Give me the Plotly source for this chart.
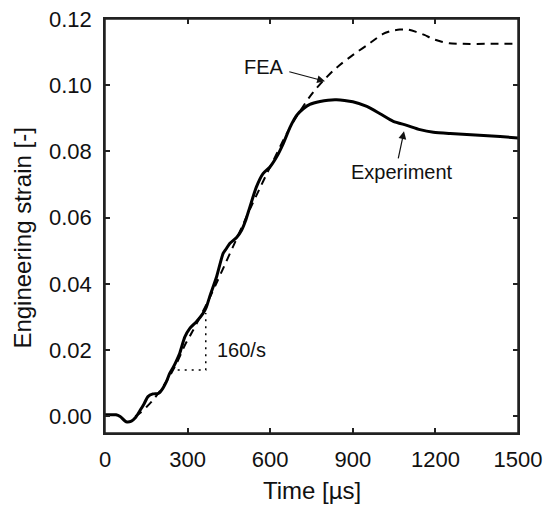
import plotly.graph_objects as go

# Experiment (solid)
exp_t = [0, 20, 40, 55, 77, 96, 110, 125, 140, 156, 174, 195, 210, 223, 235, 247, 259, 271,
         290, 308, 332, 356, 368, 380, 405, 429, 441, 453, 478, 496, 510, 526, 550, 574, 599,
         623, 647, 672, 696, 720, 744, 781, 810, 841, 870, 900, 951, 999, 1047, 1096, 1144,
         1193, 1254, 1314, 1375, 1435, 1500]
exp_strain = [0.0005, 0.0005, 0.0005, 0.0, -0.0016, -0.0014, -0.0004, 0.0015, 0.0035, 0.0060,
              0.0068, 0.0070, 0.0085, 0.0105, 0.0130, 0.0147, 0.0167, 0.0190, 0.0240, 0.0266,
              0.0286, 0.0311, 0.0330, 0.0361, 0.0421, 0.0492, 0.0507, 0.0522, 0.0540, 0.0562,
              0.0590, 0.0632, 0.0693, 0.0733, 0.0753, 0.0783, 0.0823, 0.0873, 0.0909, 0.0929,
              0.0942, 0.0951, 0.0955, 0.0956, 0.0954, 0.0950, 0.0936, 0.0914, 0.0891, 0.0879,
              0.0866, 0.0858, 0.0854, 0.0851, 0.0848, 0.0845, 0.0841]

# FEA (dashed)
fea_t = [110, 130, 150, 170, 200, 230, 260, 290, 320, 350, 380, 410, 440, 470, 500, 530, 560,
         590, 620, 650, 680, 710, 740, 770, 800, 830, 860, 890, 920, 950, 980, 1010, 1040, 1070,
         1100, 1130, 1160, 1190, 1220, 1250, 1300, 1400, 1500]
fea_strain = [0.0, 0.0012, 0.0028, 0.0045, 0.0077, 0.0115, 0.0160, 0.0215, 0.0260, 0.0308,
              0.0358, 0.0412, 0.0467, 0.0522, 0.0577, 0.0632, 0.0685, 0.0737, 0.0787, 0.0838,
              0.0884, 0.0924, 0.0961, 0.0993, 0.1020, 0.1045, 0.1066, 0.1085, 0.1103, 0.1120,
              0.1138, 0.1155, 0.1164, 0.1168, 0.1168, 0.1161, 0.1152, 0.1140, 0.1132, 0.1127,
              0.1125, 0.1125, 0.1125]

# Strain-rate triangle (dotted)
tri_t = [264, 366, 366]
tri_strain = [0.0140, 0.0140, 0.0312]

x_ticks = [0, 300, 600, 900, 1200, 1500]
y_ticks = [0.00, 0.02, 0.04, 0.06, 0.08, 0.10, 0.12]
y_tick_labels = ["0.00", "0.02", "0.04", "0.06", "0.08", "0.10", "0.12"]

FONT = "Liberation Sans, Arial, Helvetica, sans-serif"

fig = go.Figure()
fig.add_trace(go.Scatter(x=fea_t, y=fea_strain, mode="lines",
                         line=dict(color="black", width=2, dash="8px,6px", shape="spline", smoothing=0.6),
                         showlegend=False))
fig.add_trace(go.Scatter(x=exp_t, y=exp_strain, mode="lines",
                         line=dict(color="black", width=3, shape="spline", smoothing=0.6),
                         showlegend=False))
fig.add_trace(go.Scatter(x=tri_t, y=tri_strain, mode="lines",
                         line=dict(color="black", width=1.5, dash="2px,5px"),
                         showlegend=False))
# invisible trace that activates the top/right tick axes
fig.add_trace(go.Scatter(x=fea_t[:1], y=fea_strain[:1], xaxis="x2", yaxis="y2", mode="markers",
                         marker=dict(opacity=0), hoverinfo="skip", showlegend=False))

axis_common = dict(showline=True, linecolor="#222", linewidth=1.5, mirror="allticks",
                   ticks="inside", ticklen=5, tickwidth=1.5, tickcolor="#222",
                   showgrid=False, zeroline=False, automargin=False,
                   ticklabeloverflow="allow",
                   tickfont=dict(family=FONT, size=22, color="#111"))

fig.update_xaxes(range=[0, 1500], tickvals=x_ticks, ticklabelstandoff=6, **axis_common)
fig.update_yaxes(range=[-0.005, 0.12], tickvals=y_ticks, ticktext=y_tick_labels,
                 ticklabelstandoff=7, **axis_common)

mirror_common = dict(ticks="inside", ticklen=5, tickwidth=1.5, tickcolor="#222",
                     showticklabels=False, showgrid=False, zeroline=False,
                     showline=True, linecolor="#222", linewidth=1.5, automargin=False)
fig.update_layout(
    xaxis2=dict(overlaying="x", side="top", range=[0, 1500], tickvals=x_ticks, **mirror_common),
    yaxis2=dict(overlaying="y", side="right", range=[-0.005, 0.12], tickvals=y_ticks, **mirror_common),
)

# plot frame drawn explicitly so all four sides show
fig.add_shape(type="rect", xref="paper", yref="paper", x0=0, y0=0, x1=1, y1=1,
              line=dict(color="#222", width=1.5), layer="above")

ann_font = dict(family=FONT, size=20, color="#111")
fig.add_annotation(x=578, y=0.1056, text="FEA", showarrow=False, font=ann_font)
fig.add_annotation(x=799, y=0.1012, ax=664, ay=0.1042, axref="x", ayref="y", text="",
                   showarrow=True, arrowhead=2, arrowsize=1.3, arrowwidth=1.2, arrowcolor="#111")
fig.add_annotation(x=1079, y=0.0737, text="Experiment", showarrow=False, font=ann_font)
fig.add_annotation(x=1086, y=0.0861, ax=1064, ay=0.0775, axref="x", ayref="y", text="",
                   showarrow=True, arrowhead=2, arrowsize=1.3, arrowwidth=1.2, arrowcolor="#111")
fig.add_annotation(x=400, y=0.0200, text="160/s", showarrow=False, xanchor="left", font=ann_font)

title_font = dict(family=FONT, size=24, color="#111")
fig.add_annotation(xref="paper", yref="paper", x=0.5, y=-0.139, text="Time [µs]",
                   showarrow=False, font=title_font, yanchor="middle")
fig.add_annotation(xref="paper", yref="paper", x=-0.2005, y=0.47, text="Engineering strain [-]",
                   showarrow=False, font=title_font, textangle=-90, xanchor="center", yanchor="middle")

fig.update_layout(width=545, height=509, margin=dict(l=105, r=27, t=19, b=76),
                  plot_bgcolor="white", paper_bgcolor="white")

# remove the default 8px page margin so the figure sits at the window's top-left corner
fig.write_html("out.html", config={"displayModeBar": False},
               post_script="document.body.style.margin='0';document.body.style.overflow='hidden';")
